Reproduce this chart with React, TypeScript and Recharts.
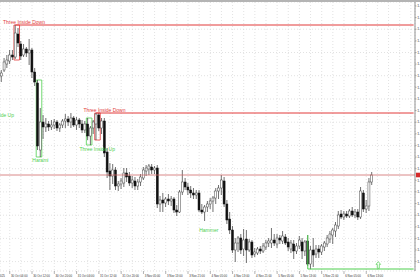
import { ComposedChart, Bar, XAxis, YAxis, CartesianGrid, ReferenceLine, ReferenceArea, ReferenceDot } from 'recharts';

// hourly bars, [open, high, low, close]
type Ohlc = [number, number, number, number];

const oct30: Ohlc[] = [
  [1.1626, 1.1632, 1.1620, 1.1629], [1.1632, 1.1644, 1.1630, 1.1640], [1.1638, 1.1647, 1.1634, 1.1642],
  [1.1641, 1.1652, 1.1638, 1.1647], [1.1647, 1.1652, 1.1642, 1.1645], [1.1645, 1.1677, 1.1643, 1.1669],
  [1.1668, 1.1674, 1.1655, 1.1659], [1.1658, 1.1661, 1.1642, 1.1646], [1.1647, 1.1658, 1.1645, 1.1653],
  [1.1653, 1.1655, 1.1645, 1.1649], [1.1649, 1.1663, 1.1637, 1.1652], [1.1652, 1.1654, 1.1624, 1.1630],
  [1.1630, 1.1634, 1.1616, 1.1620], [1.1619, 1.1622, 1.1552, 1.1556], [1.1552, 1.1594, 1.1545, 1.1580],
  [1.1580, 1.1587, 1.1563, 1.1575], [1.1575, 1.1584, 1.1570, 1.1578], [1.1578, 1.1581, 1.1571, 1.1575],
  [1.1575, 1.1582, 1.1572, 1.1577], [1.1577, 1.1583, 1.1573, 1.1580], [1.1580, 1.1582, 1.1571, 1.1574],
  [1.1574, 1.1579, 1.1570, 1.1577], [1.1577, 1.1583, 1.1574, 1.1581],
];

const oct31: Ohlc[] = [
  [1.1581, 1.1588, 1.1574, 1.1583], [1.1583, 1.1586, 1.1576, 1.1580], [1.1580, 1.1589, 1.1574, 1.1584],
  [1.1584, 1.1586, 1.1575, 1.1577], [1.1577, 1.1585, 1.1572, 1.1582], [1.1582, 1.1584, 1.1574, 1.1578],
  [1.1578, 1.1582, 1.1569, 1.1572], [1.1572, 1.1581, 1.1569, 1.1578], [1.1578, 1.1584, 1.1562, 1.1566],
  [1.1566, 1.1576, 1.1557, 1.1574], [1.1574, 1.1582, 1.1568, 1.1580], [1.1578, 1.1589, 1.1562, 1.1588],
  [1.1587, 1.1589, 1.1571, 1.1574], [1.1574, 1.1584, 1.1568, 1.1581], [1.1581, 1.1584, 1.1545, 1.1549],
  [1.1550, 1.1554, 1.1524, 1.1530], [1.1531, 1.1539, 1.1512, 1.1526], [1.1526, 1.1538, 1.1518, 1.1532],
  [1.1532, 1.1535, 1.1512, 1.1516], [1.1516, 1.1521, 1.1511, 1.1518], [1.1518, 1.1524, 1.1513, 1.1521],
  [1.1519, 1.1534, 1.1515, 1.1529], [1.1529, 1.1534, 1.1520, 1.1525], [1.1526, 1.1530, 1.1516, 1.1519],
];

const nov3: Ohlc[] = [
  [1.1519, 1.1526, 1.1514, 1.1522], [1.1521, 1.1525, 1.1512, 1.1516], [1.1516, 1.1523, 1.1512, 1.1520],
  [1.1520, 1.1528, 1.1516, 1.1525], [1.1524, 1.1535, 1.1522, 1.1532], [1.1531, 1.1537, 1.1526, 1.1534],
  [1.1533, 1.1538, 1.1527, 1.1536], [1.1535, 1.1538, 1.1528, 1.1532], [1.1532, 1.1536, 1.1528, 1.1534],
  [1.1534, 1.1537, 1.1494, 1.1498], [1.1498, 1.1506, 1.1490, 1.1502], [1.1502, 1.1509, 1.1490, 1.1499],
  [1.1499, 1.1505, 1.1495, 1.1503], [1.1503, 1.1508, 1.1497, 1.1501], [1.1501, 1.1506, 1.1496, 1.1503],
  [1.1503, 1.1505, 1.1489, 1.1492], [1.1492, 1.1497, 1.1486, 1.1490], [1.1490, 1.1512, 1.1489, 1.1510],
  [1.1510, 1.1532, 1.1507, 1.1520], [1.1520, 1.1524, 1.1512, 1.1515], [1.1515, 1.1519, 1.1507, 1.1512],
  [1.1512, 1.1516, 1.1504, 1.1509], [1.1509, 1.1514, 1.1503, 1.1507],
];

const nov4: Ohlc[] = [
  [1.1507, 1.1512, 1.1503, 1.1509], [1.1509, 1.1512, 1.1490, 1.1492], [1.1492, 1.1498, 1.1488, 1.1490],
  [1.1490, 1.1497, 1.1481, 1.1495], [1.1495, 1.1501, 1.1490, 1.1498], [1.1498, 1.1504, 1.1493, 1.1501],
  [1.1501, 1.1506, 1.1490, 1.1504], [1.1504, 1.1514, 1.1498, 1.1511], [1.1511, 1.1517, 1.1503, 1.1514],
  [1.1514, 1.1527, 1.1507, 1.1522], [1.1521, 1.1525, 1.1495, 1.1498], [1.1498, 1.1502, 1.1478, 1.1482],
  [1.1483, 1.1490, 1.1468, 1.1472], [1.1472, 1.1476, 1.1449, 1.1452], [1.1452, 1.1464, 1.1440, 1.1459],
  [1.1459, 1.1466, 1.1450, 1.1464], [1.1464, 1.1468, 1.1448, 1.1452], [1.1453, 1.1473, 1.1446, 1.1462],
  [1.1463, 1.1472, 1.1439, 1.1452], [1.1452, 1.1463, 1.1450, 1.1460], [1.1460, 1.1462, 1.1444, 1.1447],
  [1.1448, 1.1454, 1.1445, 1.1450], [1.1449, 1.1455, 1.1447, 1.1453], [1.1453, 1.1456, 1.1448, 1.1451],
];

const nov5: Ohlc[] = [
  [1.1451, 1.1459, 1.1449, 1.1456], [1.1455, 1.1462, 1.1452, 1.1459], [1.1459, 1.1464, 1.1455, 1.1461],
  [1.1459, 1.1474, 1.1454, 1.1462], [1.1462, 1.1468, 1.1456, 1.1459], [1.1458, 1.1468, 1.1454, 1.1464],
  [1.1464, 1.1467, 1.1458, 1.1462], [1.1461, 1.1471, 1.1458, 1.1466], [1.1465, 1.1468, 1.1457, 1.1459],
  [1.1460, 1.1464, 1.1451, 1.1455], [1.1453, 1.1462, 1.1449, 1.1459], [1.1458, 1.1462, 1.1443, 1.1451],
  [1.1451, 1.1459, 1.1448, 1.1456], [1.1456, 1.1466, 1.1453, 1.1462], [1.1460, 1.1464, 1.1443, 1.1451],
  [1.1451, 1.1462, 1.1446, 1.1460], [1.1461, 1.1467, 1.1436, 1.1438], [1.1438, 1.1456, 1.1433, 1.1452],
  [1.1452, 1.1464, 1.1435, 1.1447], [1.1448, 1.1457, 1.1444, 1.1453], [1.1453, 1.1457, 1.1444, 1.1450],
  [1.1450, 1.1458, 1.1447, 1.1456], [1.1455, 1.1461, 1.1451, 1.1459], [1.1458, 1.1467, 1.1455, 1.1464],
];

const nov6: Ohlc[] = [
  [1.1463, 1.1471, 1.1459, 1.1468], [1.1467, 1.1474, 1.1458, 1.1472], [1.1471, 1.1480, 1.1465, 1.1477],
  [1.1476, 1.1491, 1.1473, 1.1487], [1.1488, 1.1492, 1.1483, 1.1485], [1.1485, 1.1491, 1.1482, 1.1488],
  [1.1488, 1.1491, 1.1484, 1.1486], [1.1486, 1.1493, 1.1484, 1.1491], [1.1491, 1.1495, 1.1485, 1.1487],
  [1.1487, 1.1493, 1.1484, 1.1490], [1.1490, 1.1493, 1.1482, 1.1485], [1.1485, 1.1515, 1.1483, 1.1511],
  [1.1509, 1.1512, 1.1490, 1.1493], [1.1493, 1.1502, 1.1489, 1.1496], [1.1496, 1.1524, 1.1491, 1.1520],
  [1.1520, 1.1530, 1.1517, 1.1527],
];

const timeLabels = [
  '30 Oct 04:00', '30 Oct 12:00', '30 Oct 20:00', '31 Oct 04:00', '31 Oct 12:00', '31 Oct 20:00',
  '3 Nov 05:00', '3 Nov 13:00', '3 Nov 21:00', '4 Nov 05:00', '4 Nov 13:00', '4 Nov 21:00',
  '5 Nov 05:00', '5 Nov 13:00', '5 Nov 21:00', '6 Nov 05:00', '6 Nov 13:00',
];
const labelSlots = [3, 11, 19, 27, 35, 43, 51, 59, 67, 75, 83, 91, 99, 107, 115, 123, 131];

const priceTicks = [
  1.1696, 1.16844, 1.16728, 1.16611, 1.16495, 1.16379, 1.16263, 1.16147, 1.1603, 1.15914, 1.15798, 1.15682,
  1.15566, 1.15449, 1.15333, 1.15217, 1.15101, 1.14985, 1.14868, 1.14752, 1.14636, 1.1452, 1.14404,
];

const lastPrice = 1.1527;
const SLOTS = 149; // bars on screen incl. the empty shift on the right

const RED = '#e23b3b';
const GREEN = '#4fcf4f';
const FONT = 'Liberation Sans, Arial, sans-serif';

const candles = [...oct30, ...oct31, ...nov3, ...nov4, ...nov5, ...nov6];
const rows = Array.from({ length: SLOTS }, (_, i) => {
  const k = candles[i];
  return k ? { i, o: k[0], h: k[1], l: k[2], c: k[3] } : { i };
});
const gridSlots = Array.from({ length: 37 }, (_, k) => 3 + 4 * k);
const labelAt: Record<number, string> = {};
labelSlots.forEach((s, n) => { labelAt[s] = timeLabels[n]; });

// pattern notes: [text, slot, price, colour, dx, anchor]
const notes: [string, number, number, string, number, string][] = [
  ['Three Inside Down', 0, 1.1678, RED, 1.6, 'start'],
  ['Three Inside Up', 0, 1.1585, GREEN, 12.6, 'end'],
  ['Harami', 14, 1.15405, GREEN, 0, 'middle'],
  ['Three Inside Down', 30, 1.15905, RED, -1.4, 'start'],
  ['Three Inside Up', 28, 1.1551, GREEN, 0, 'start'],
  ['Hammer', 74, 1.147, GREEN, 1.3, 'middle'],
];

function CandleShape(props: any) {
  const { x, y, width, height, payload } = props;
  if (!payload || payload.h == null) return null;
  const { o, h, l, c } = payload;
  const top = Math.min(y, y + height);
  const span = Math.abs(height);
  const k = h - l > 0 ? span / (h - l) : 0;
  const py = (v: number) => top + (h - v) * k;
  const cx = x + width / 2;
  const up = c >= o;
  const bTop = py(Math.max(o, c));
  const bH = Math.max(0.8, Math.abs(py(o) - py(c)));
  return (
    <g>
      <line x1={cx} x2={cx} y1={py(h)} y2={py(l)} stroke="#333" strokeWidth={0.7} />
      <rect x={cx - 1} y={bTop} width={2} height={bH} fill={up ? '#fff' : '#111'} stroke={up ? '#444' : '#111'} strokeWidth={0.5} />
    </g>
  );
}

function TimeTick(props: any) {
  const { x, y, payload } = props;
  const text = labelAt[payload.value];
  if (!text) return null;
  return (
    <g>
      <line x1={x} x2={x} y1={y} y2={y + 3} stroke="#666" strokeWidth={0.5} />
      <text x={x + 1.2} y={y + 5.8} fontSize={2.9} fill="#333" fontFamily={FONT}>{text}</text>
    </g>
  );
}

const noteShape = (text: string, color: string, dx: number, anchor: string) => (p: any) => (
  <text x={p.cx + dx} y={p.cy} fill={color} fontSize={5} fontFamily={FONT} textAnchor={anchor}>{text}</text>
);

const arrowShape = (p: any) => {
  const x = p.cx + 0.9;
  const y = p.cy;
  const d = `M${x},${y - 3.3} L${x + 2.3},${y - 0.6} L${x + 1},${y - 0.6} L${x + 1},${y + 3.3} L${x - 1},${y + 3.3} L${x - 1},${y - 0.6} L${x - 2.3},${y - 0.6} Z`;
  return <path d={d} fill="#fff" stroke={GREEN} strokeWidth={0.7} />;
};

const priceTag = (p: any) => {
  const vb = p.viewBox || {};
  return <rect x={vb.x + vb.width + 1} y={vb.y - 2.3} width={6} height={4.6} fill="#d42a2a" />;
};

export default function App() {
  return (
    <div style={{ position: 'absolute', left: 0, top: 0, width: 420, height: 280, background: '#fff', borderTop: '2px solid #b4b4b4', boxSizing: 'border-box' }}>
      <ComposedChart width={420} height={278} data={rows} margin={{ top: 0, right: 0, bottom: 0, left: 0 }} barCategoryGap="10%">
        <CartesianGrid stroke="#cfcfcf" strokeDasharray="1 2" strokeWidth={0.6} />
        <XAxis dataKey="i" type="category" ticks={gridSlots} interval={0} tick={<TimeTick />} tickLine={false} axisLine={false} tickSize={0} tickMargin={0} height={9} />
        <YAxis
          orientation="right"
          type="number"
          domain={[1.1431, 1.17]}
          allowDataOverflow
          ticks={priceTicks}
          width={5}
          tickSize={1.6}
          tickMargin={0.6}
          tickLine={{ stroke: '#777', strokeWidth: 0.5 }}
          axisLine={{ stroke: '#777', strokeWidth: 0.8 }}
          tick={{ fontSize: 3.5, fill: '#333', fontFamily: FONT }}
          tickFormatter={(v: number) => v.toFixed(4)}
        />

        <ReferenceLine y={lastPrice} stroke="#cf6b6b" strokeWidth={0.8} label={priceTag} />
        <ReferenceLine segment={[{ x: 5, y: 1.1677 }, { x: 148, y: 1.1677 }]} stroke={RED} strokeWidth={1.1} />
        <ReferenceLine segment={[{ x: 34, y: 1.1589 }, { x: 148, y: 1.1589 }]} stroke={RED} strokeWidth={1} />
        <ReferenceLine segment={[{ x: 110, y: 1.1467 }, { x: 110, y: 1.1433 }]} stroke={GREEN} strokeWidth={1} />
        <ReferenceLine segment={[{ x: 110, y: 1.1433 }, { x: 148, y: 1.1433 }]} stroke={GREEN} strokeWidth={1} />

        <ReferenceArea x1={5} x2={6} y1={1.1642} y2={1.1677} fill="none" stroke={RED} strokeWidth={0.8} />
        <ReferenceArea x1={13} x2={14} y1={1.1545} y2={1.1622} fill="none" stroke={GREEN} strokeWidth={0.8} />
        <ReferenceArea x1={31} x2={32} y1={1.1557} y2={1.1584} fill="none" stroke={GREEN} strokeWidth={0.8} />
        <ReferenceArea x1={34} x2={35} y1={1.1562} y2={1.1589} fill="none" stroke={RED} strokeWidth={0.8} />

        <Bar dataKey={(d: any) => (d.h == null ? null : [d.l, d.h])} shape={<CandleShape />} isAnimationActive={false} />

        {notes.map(([text, slot, price, color, dx, anchor], n) => (
          <ReferenceDot key={n} x={slot} y={price} r={0} ifOverflow="visible" shape={noteShape(text, color, dx, anchor)} />
        ))}
        <ReferenceDot x={0} y={1.1426} r={0} ifOverflow="visible" shape={(p: any) => (
          <text x={p.cx + 3.5} y={p.cy + 0.6} fontSize={2.9} fill="#333" fontFamily={FONT} textAnchor="end">30 Oct 2025</text>
        )} />
        <ReferenceDot x={135} y={1.1437} r={0} ifOverflow="visible" shape={arrowShape} />
      </ComposedChart>
    </div>
  );
}
